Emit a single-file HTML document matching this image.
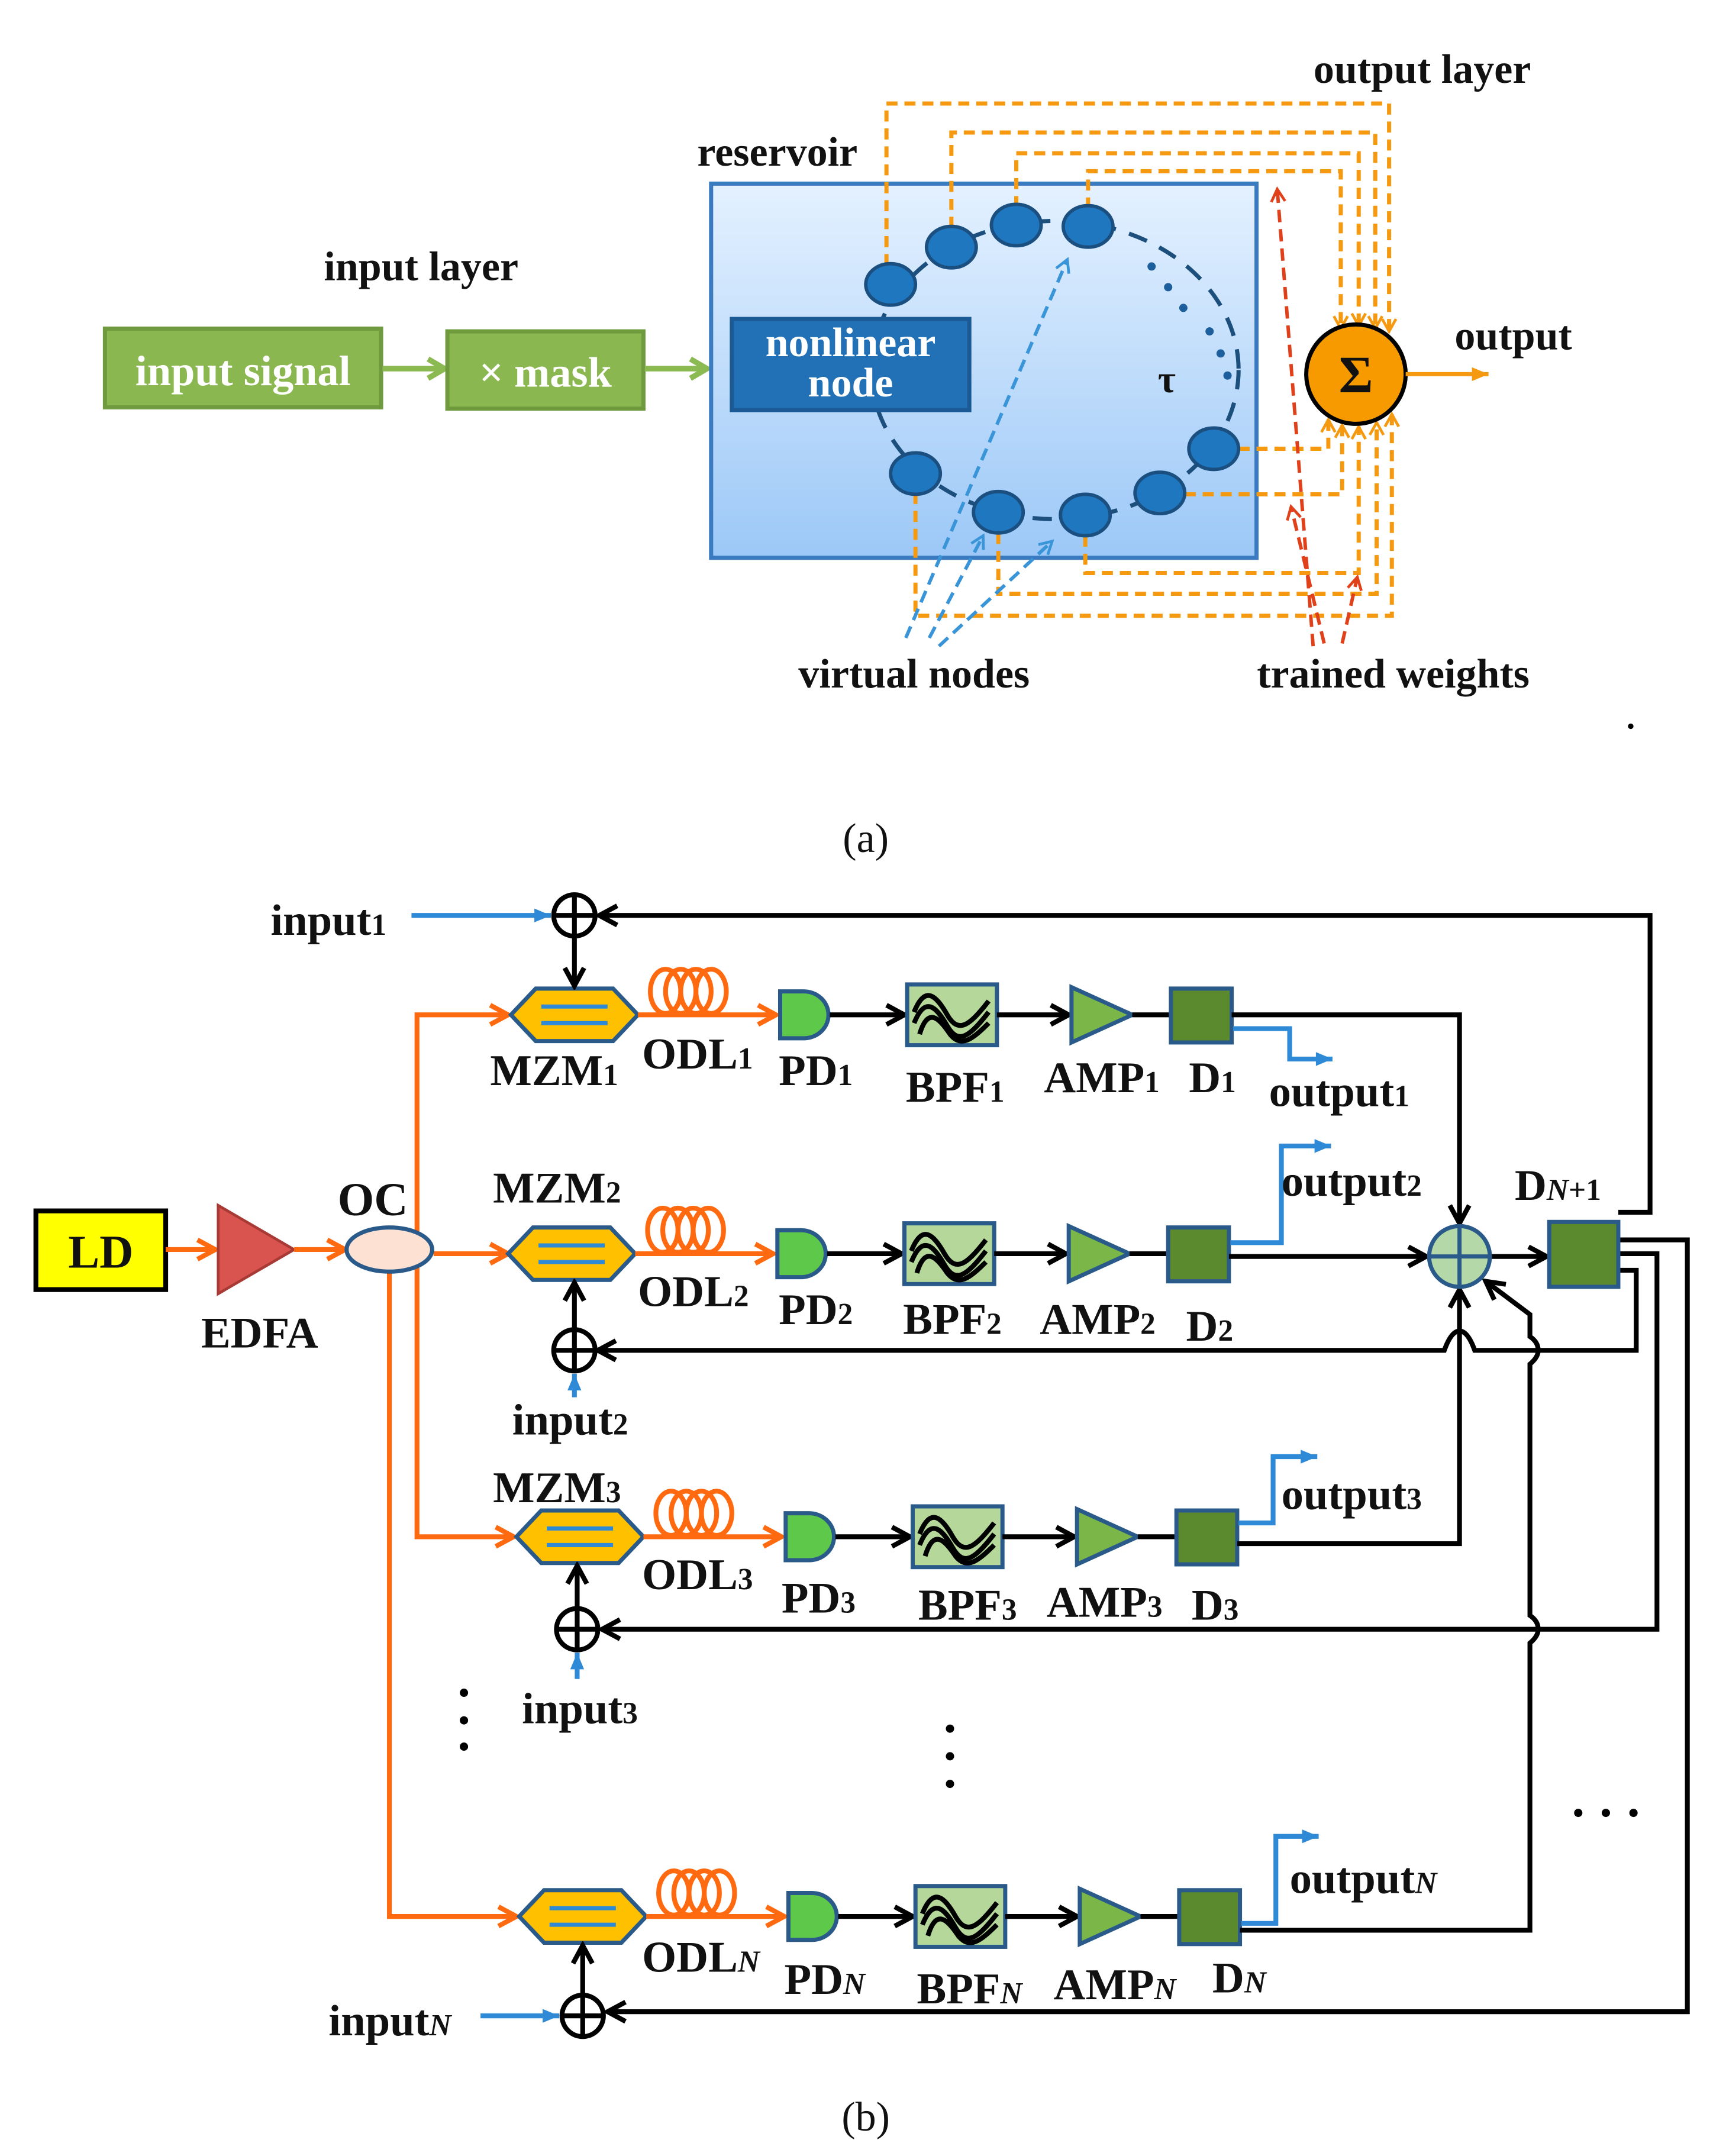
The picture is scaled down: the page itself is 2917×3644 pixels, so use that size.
<!DOCTYPE html>
<html><head><meta charset="utf-8"><style>
html,body{margin:0;padding:0;background:#fff}
svg{display:block}
text{font-family:"Liberation Serif",serif;font-weight:bold;fill:#111}
</style></head><body>
<svg width="2917" height="3644" viewBox="0 0 1250 1561.5" preserveAspectRatio="none" xmlns="http://www.w3.org/2000/svg">
<defs>
<linearGradient id="res" x1="0" y1="0" x2="0" y2="1"><stop offset="0" stop-color="#e4f1ff"/><stop offset="1" stop-color="#9cc8f7"/></linearGradient>
<marker id="aO" markerUnits="userSpaceOnUse" markerWidth="18" markerHeight="18" refX="15" refY="9" orient="auto"><path d="M2,2 L15,9 L2,16" fill="none" stroke="#ff6a10" stroke-width="3.5"/></marker>
<marker id="aK" markerUnits="userSpaceOnUse" markerWidth="18" markerHeight="18" refX="15" refY="9" orient="auto"><path d="M2,2 L15,9 L2,16" fill="none" stroke="#000" stroke-width="3.5"/></marker>
<marker id="aB" markerUnits="userSpaceOnUse" markerWidth="16" markerHeight="16" refX="13" refY="8" orient="auto"><path d="M1,3 L13,8 L1,13 Z" fill="#2e8ad6"/></marker>
<marker id="aG" markerUnits="userSpaceOnUse" markerWidth="18" markerHeight="18" refX="15" refY="9" orient="auto"><path d="M3,2 L15,9 L3,16" fill="none" stroke="#8cba52" stroke-width="4"/></marker>
<marker id="aY" markerUnits="userSpaceOnUse" markerWidth="12" markerHeight="12" refX="10" refY="6" orient="auto"><path d="M1,1 L10,6 L1,11" fill="none" stroke="#f59a10" stroke-width="2"/></marker>
<marker id="aYs" markerUnits="userSpaceOnUse" markerWidth="16" markerHeight="16" refX="13" refY="8" orient="auto"><path d="M1,3 L13,8 L1,13 Z" fill="#f59a10"/></marker>
<marker id="aR" markerUnits="userSpaceOnUse" markerWidth="12" markerHeight="12" refX="10" refY="6" orient="auto"><path d="M1,1 L10,6 L1,11" fill="none" stroke="#e0401a" stroke-width="2"/></marker>
<marker id="aL" markerUnits="userSpaceOnUse" markerWidth="12" markerHeight="12" refX="10" refY="6" orient="auto"><path d="M1,1 L10,6 L1,11" fill="none" stroke="#3a95d8" stroke-width="2"/></marker>
<g id="chain">
  <polygon points="0,0 18,-19 74,-19 92,0 74,19 18,19" fill="#ffc000" stroke="#2a5a8a" stroke-width="3"/>
  <line x1="22" y1="-6" x2="70" y2="-6" stroke="#2e8ad6" stroke-width="3"/>
  <line x1="22" y1="6" x2="70" y2="6" stroke="#2e8ad6" stroke-width="3"/>
  <g fill="none" stroke="#ff6a10" stroke-width="3.5">
    <ellipse cx="112" cy="-17" rx="11" ry="16"/><ellipse cx="123" cy="-17" rx="11" ry="16"/><ellipse cx="134" cy="-17" rx="11" ry="16"/><ellipse cx="145" cy="-17" rx="11" ry="16"/>
  </g>
  <line x1="92" y1="0" x2="192" y2="0" stroke="#ff6a10" stroke-width="3.5" marker-end="url(#aO)"/>
  <path d="M195,-17 L212,-17 A18,17 0 0 1 212,17 L195,17 Z" fill="#5ec84a" stroke="#2a5a8a" stroke-width="3"/>
  <line x1="231" y1="0" x2="285" y2="0" stroke="#000" stroke-width="3.5" marker-end="url(#aK)"/>
  <rect x="287" y="-22" width="65" height="44" fill="#b5d89a" stroke="#2a5a8a" stroke-width="3"/>
  <g fill="none" stroke="#000" stroke-width="3.5">
    <path d="M292,-2 C300,-22 308,-14 316,0 C324,14 332,8 346,-10"/>
    <path d="M292,6 C300,-14 308,-6 316,8 C324,22 332,16 346,-2"/>
    <path d="M296,14 C302,-6 310,2 318,14 C326,24 334,18 346,6"/>
  </g>
  <line x1="352" y1="0" x2="404" y2="0" stroke="#000" stroke-width="3.5" marker-end="url(#aK)"/>
  <polygon points="406,-20 450,0 406,20" fill="#7ab648" stroke="#2a5a8a" stroke-width="3"/>
  <line x1="450" y1="0" x2="478" y2="0" stroke="#000" stroke-width="3.5"/>
  <rect x="478" y="-19" width="44" height="39" fill="#5b8a2e" stroke="#2a5a8a" stroke-width="3"/>
</g>
</defs>

<!-- ===== (a) ===== -->
<text x="1030" y="60" font-size="30" text-anchor="middle">output layer</text>
<text x="563" y="120" font-size="30" text-anchor="middle">reservoir</text>
<text x="305" y="203" font-size="30" text-anchor="middle">input layer</text>

<rect x="76" y="238" width="200" height="57" fill="#8bb750" stroke="#6f9a3d" stroke-width="3"/>
<text x="176" y="279" font-size="31" text-anchor="middle" style="fill:#fff">input signal</text>
<line x1="277" y1="267" x2="322" y2="267" stroke="#8cba52" stroke-width="4" marker-end="url(#aG)"/>
<rect x="324" y="240" width="142" height="56" fill="#8bb750" stroke="#6f9a3d" stroke-width="3"/>
<text x="395" y="280" font-size="31" text-anchor="middle" style="fill:#fff">× mask</text>
<line x1="467" y1="267" x2="512" y2="267" stroke="#8cba52" stroke-width="4" marker-end="url(#aG)"/>

<rect x="515" y="133" width="395" height="271" fill="url(#res)" stroke="#3a7ac0" stroke-width="3"/>
<ellipse cx="764" cy="268" rx="133" ry="108" fill="none" stroke="#1d4f7c" stroke-width="3" stroke-dasharray="14,10"/>
<g fill="#1d5f9c"><circle cx="834" cy="193" r="3"/><circle cx="846" cy="208" r="3"/><circle cx="857" cy="223" r="3"/><circle cx="876" cy="240" r="3"/><circle cx="884" cy="256" r="3"/><circle cx="889" cy="272" r="3"/></g>
<rect x="530" y="231" width="172" height="66" fill="#2270b5" stroke="#1b5a94" stroke-width="3"/>
<text x="616" y="258" font-size="30" text-anchor="middle" style="fill:#fff">nonlinear</text>
<text x="616" y="287" font-size="30" text-anchor="middle" style="fill:#fff">node</text>
<text x="845" y="284" font-size="28" text-anchor="middle">τ</text>

<g fill="none" stroke="#f59a10" stroke-width="3" stroke-dasharray="8,5">
  <path d="M642,192 V75 H1006 V240" marker-end="url(#aY)"/>
  <path d="M689,165 V96 H996 V238" marker-end="url(#aY)"/>
  <path d="M736,150 V111 H984 V236" marker-end="url(#aY)"/>
  <path d="M788,151 V124 H971 V238" marker-end="url(#aY)"/>
  <path d="M897,325 H962 V304" marker-end="url(#aY)"/>
  <path d="M858,358 H972 V308" marker-end="url(#aY)"/>
  <path d="M786,388 V415 H984 V309" marker-end="url(#aY)"/>
  <path d="M723,386 V430 H997 V306" marker-end="url(#aY)"/>
  <path d="M663,357 V446 H1008 V300" marker-end="url(#aY)"/>
</g>
<g fill="#1f77c0" stroke="#1a4f80" stroke-width="2.5">
  <ellipse cx="645" cy="206" rx="18" ry="15"/><ellipse cx="689" cy="179" rx="18" ry="15"/><ellipse cx="736" cy="163" rx="18" ry="15"/><ellipse cx="788" cy="164" rx="18" ry="15"/>
  <ellipse cx="879" cy="325" rx="18" ry="15"/><ellipse cx="840" cy="357" rx="18" ry="15"/><ellipse cx="786" cy="373" rx="18" ry="15"/><ellipse cx="723" cy="371" rx="18" ry="15"/><ellipse cx="663" cy="343" rx="18" ry="15"/>
</g>
<circle cx="982" cy="271" r="36" fill="#f79a00" stroke="#000" stroke-width="3"/>
<text x="982" y="284" font-size="38" text-anchor="middle">Σ</text>
<line x1="1018" y1="271" x2="1078" y2="271" stroke="#f59a10" stroke-width="3" marker-end="url(#aYs)"/>
<text x="1096" y="253" font-size="30" text-anchor="middle">output</text>

<g fill="none" stroke="#e0401a" stroke-width="2.5" stroke-dasharray="9,5">
  <line x1="951" y1="468" x2="925" y2="137" marker-end="url(#aR)"/>
  <line x1="959" y1="466" x2="935" y2="367" marker-end="url(#aR)"/>
  <line x1="972" y1="466" x2="983" y2="418" marker-end="url(#aR)"/>
</g>
<g fill="none" stroke="#3a95d8" stroke-width="2.5" stroke-dasharray="9,5">
  <line x1="656" y1="462" x2="773" y2="188" marker-end="url(#aL)"/>
  <line x1="673" y1="462" x2="712" y2="388" marker-end="url(#aL)"/>
  <line x1="680" y1="468" x2="762" y2="392" marker-end="url(#aL)"/>
</g>
<text x="662" y="498" font-size="30" text-anchor="middle">virtual nodes</text>
<text x="1009" y="498" font-size="30" text-anchor="middle">trained weights</text>
<circle cx="1181" cy="526" r="2" fill="#000"/>
<text x="627" y="617" font-size="30" text-anchor="middle" style="font-weight:normal">(a)</text>

<!-- ===== (b) ===== -->
<rect x="26" y="877" width="94" height="57" fill="#ffff00" stroke="#000" stroke-width="3.5"/>
<text x="73" y="918" font-size="34" text-anchor="middle">LD</text>
<line x1="120" y1="905" x2="156" y2="905" stroke="#ff6a10" stroke-width="3.5" marker-end="url(#aO)"/>
<polygon points="158,873 213,905 158,937" fill="#d9534f" stroke="#a83a36" stroke-width="2"/>
<line x1="213" y1="905" x2="250" y2="905" stroke="#ff6a10" stroke-width="3.5" marker-end="url(#aO)"/>
<text x="188" y="976" font-size="32" text-anchor="middle">EDFA</text>
<text x="270" y="880" font-size="34" text-anchor="middle">OC</text>
<g fill="none" stroke="#ff6a10" stroke-width="3.5">
  <path d="M302,895 V735 H368" marker-end="url(#aO)"/>
  <path d="M302,915 V1113 H372" marker-end="url(#aO)"/>
  <path d="M282,920 V1388 H374" marker-end="url(#aO)"/>
  <path d="M314,908 H368" marker-end="url(#aO)"/>
</g>
<ellipse cx="282" cy="905" rx="31" ry="16" fill="#fde2d4" stroke="#2a5a8a" stroke-width="3"/>

<use href="#chain" x="370" y="735"/>
<use href="#chain" x="368" y="908"/>
<use href="#chain" x="374" y="1113"/>
<use href="#chain" x="376" y="1388"/>

<g fill="none" stroke="#000" stroke-width="3.5">
  <circle cx="416" cy="663" r="15"/><path d="M401,663 H431 M416,648 V678"/>
  <circle cx="416" cy="978" r="15"/><path d="M401,978 H431 M416,963 V993"/>
  <circle cx="418" cy="1180" r="15"/><path d="M403,1180 H433 M418,1165 V1195"/>
  <circle cx="422" cy="1460" r="15"/><path d="M407,1460 H437 M422,1445 V1475"/>
  <line x1="416" y1="678" x2="416" y2="714" marker-end="url(#aK)"/>
  <line x1="416" y1="963" x2="416" y2="929" marker-end="url(#aK)"/>
  <line x1="418" y1="1165" x2="418" y2="1134" marker-end="url(#aK)"/>
  <line x1="422" y1="1445" x2="422" y2="1409" marker-end="url(#aK)"/>
</g>
<g fill="none" stroke="#2e8ad6" stroke-width="3.5">
  <line x1="298" y1="663" x2="399" y2="663" marker-end="url(#aB)"/>
  <line x1="416" y1="1012" x2="416" y2="995" marker-end="url(#aB)"/>
  <line x1="418" y1="1216" x2="418" y2="1197" marker-end="url(#aB)"/>
  <line x1="348" y1="1460" x2="405" y2="1460" marker-end="url(#aB)"/>
  <path d="M893,745 H934 V767 H965" marker-end="url(#aB)"/>
  <path d="M891,900 H928 V830 H964" marker-end="url(#aB)"/>
  <path d="M897,1103 H922 V1055 H954" marker-end="url(#aB)"/>
  <path d="M899,1393 H924 V1330 H955" marker-end="url(#aB)"/>
</g>

<g fill="none" stroke="#000" stroke-width="3.5">
  <path d="M892,735 H1057 V886" marker-end="url(#aK)"/>
  <path d="M890,910 H1033" marker-end="url(#aK)"/>
  <path d="M1080,910 H1120" marker-end="url(#aK)"/>
  <path d="M896,1118 H1057 V934" marker-end="url(#aK)"/>
  <path d="M898,1398 H1108 V1190 q6,-5 6,-10 q0,-6 -6,-10 V988 q6,-5 6,-10 q0,-6 -6,-10 V952 L1076,928" marker-end="url(#aK)"/>
  <path d="M1172,878 H1195 V663 H434" marker-end="url(#aK)"/>
  <path d="M1172,920 H1185 V978 H1068 q-5,-14 -11,-14 q-6,0 -11,14 H433" marker-end="url(#aK)"/>
  <path d="M1172,908 H1200 V1180 H436" marker-end="url(#aK)"/>
  <path d="M1172,898 H1222 V1457 H440" marker-end="url(#aK)"/>
</g>
<circle cx="1057" cy="910" r="22" fill="#b5d8a8" stroke="#2a5a8a" stroke-width="3"/>
<path d="M1035,910 H1079 M1057,888 V932" stroke="#2a5a8a" stroke-width="3"/>
<rect x="1122" y="885" width="50" height="47" fill="#5b8a2e" stroke="#2a5a8a" stroke-width="3"/>

<g fill="#000">
  <circle cx="336" cy="1226" r="3"/><circle cx="336" cy="1246" r="3"/><circle cx="336" cy="1265" r="3"/>
  <circle cx="688" cy="1252" r="3"/><circle cx="688" cy="1272" r="3"/><circle cx="688" cy="1292" r="3"/>
  <circle cx="1143" cy="1313" r="3"/><circle cx="1163" cy="1313" r="3"/><circle cx="1183" cy="1313" r="3"/>
</g>

<g font-size="32">
<text x="196" y="677">input<tspan font-size="22">1</tspan></text>
<text x="355" y="786">MZM<tspan font-size="22">1</tspan></text>
<text x="465" y="774">ODL<tspan font-size="22">1</tspan></text>
<text x="564" y="786">PD<tspan font-size="22">1</tspan></text>
<text x="656" y="798">BPF<tspan font-size="22">1</tspan></text>
<text x="756" y="791">AMP<tspan font-size="22">1</tspan></text>
<text x="861" y="791">D<tspan font-size="22">1</tspan></text>
<text x="919" y="801">output<tspan font-size="22">1</tspan></text>

<text x="357" y="871">MZM<tspan font-size="22">2</tspan></text>
<text x="462" y="946">ODL<tspan font-size="22">2</tspan></text>
<text x="564" y="959">PD<tspan font-size="22">2</tspan></text>
<text x="654" y="966">BPF<tspan font-size="22">2</tspan></text>
<text x="753" y="966">AMP<tspan font-size="22">2</tspan></text>
<text x="859" y="971">D<tspan font-size="22">2</tspan></text>
<text x="928" y="866">output<tspan font-size="22">2</tspan></text>
<text x="1097" y="869">D<tspan font-size="22" font-style="italic">N</tspan><tspan font-size="22">+1</tspan></text>
<text x="371" y="1039">input<tspan font-size="22">2</tspan></text>

<text x="357" y="1088">MZM<tspan font-size="22">3</tspan></text>
<text x="465" y="1151">ODL<tspan font-size="22">3</tspan></text>
<text x="566" y="1168">PD<tspan font-size="22">3</tspan></text>
<text x="665" y="1173">BPF<tspan font-size="22">3</tspan></text>
<text x="758" y="1171">AMP<tspan font-size="22">3</tspan></text>
<text x="863" y="1173">D<tspan font-size="22">3</tspan></text>
<text x="928" y="1093">output<tspan font-size="22">3</tspan></text>
<text x="378" y="1248">input<tspan font-size="22">3</tspan></text>

<text x="465" y="1428">ODL<tspan font-size="22" font-style="italic">N</tspan></text>
<text x="568" y="1444">PD<tspan font-size="22" font-style="italic">N</tspan></text>
<text x="664" y="1451">BPF<tspan font-size="22" font-style="italic">N</tspan></text>
<text x="763" y="1448">AMP<tspan font-size="22" font-style="italic">N</tspan></text>
<text x="878" y="1443">D<tspan font-size="22" font-style="italic">N</tspan></text>
<text x="934" y="1371">output<tspan font-size="22" font-style="italic">N</tspan></text>
<text x="238" y="1474">input<tspan font-size="22" font-style="italic">N</tspan></text>
</g>
<text x="627" y="1543" font-size="30" text-anchor="middle" style="font-weight:normal">(b)</text>
</svg>
</body></html>
